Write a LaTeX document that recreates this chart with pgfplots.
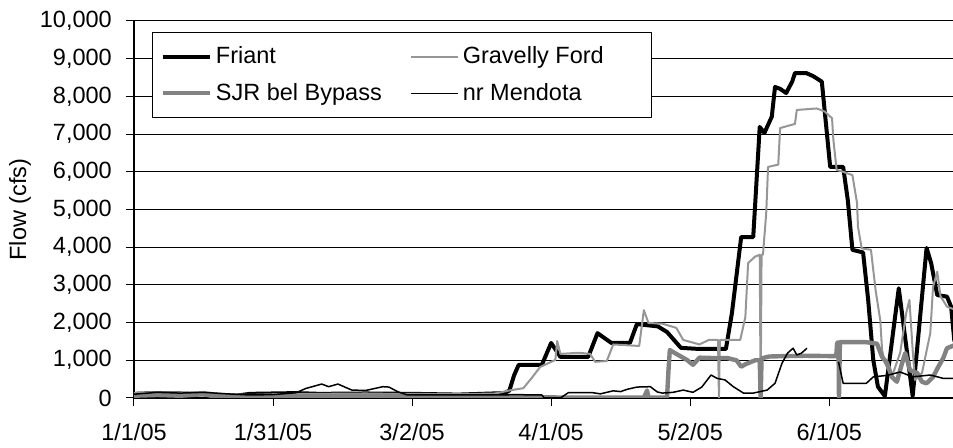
\documentclass[border=0pt]{standalone}
\usepackage{pgfplots}
\pgfplotsset{compat=1.18}
\usepackage{fontspec}
\setmainfont{Liberation Sans}
\definecolor{gfgray}{RGB}{150,150,150}
\definecolor{sjrgray}{RGB}{130,130,130}

\pgfplotstableread{
x y
0 110
5 130
10 120
15 100
17 60
22 60
25 110
35 130
40 110
50 120
60 110
70 90
75 110
80 130
81 200
82 600
83 880
88 880
90 1460
92 1090
98 1090
100 1720
103 1460
107 1460
108.5 1960
113 1900
115 1750
118 1330
122 1300
127.7 1300
129 2250
131 4270
133.6 4270
135 7190
136 7030
137.6 7460
138.3 8250
139.4 8200
140.7 8090
142 8390
142.6 8620
145 8620
146.5 8540
148.4 8390
150.2 6130
153 6130
154 5250
155 3930
157.3 3860
158.4 2600
159.5 1010
160.5 300
162 50
165 2910
168 50
171 3980
172 3570
173.3 2730
175.4 2690
176.3 2420
177 1500
}\friant

\pgfplotstableread{
x y
0 130
5 150
10 140
15 160
17 130
20 100
25 80
30 100
40 110
50 120
55 110
60 110
70 100
78 120
81 200
84 260
86 560
87.6 820
90.9 1010
91.3 1510
92 1170
96 1200
98.4 1170
99.5 960
102 980
103.4 1420
109 1380
110 2330
111 1990
114 1970
117 1860
118.5 1540
122 1420
124 1540
126 1540
126.2 0
126.4 1540
130.8 1540
131.9 2150
132.5 3580
134 3750
135 3800
135.2 0
135.4 3800
135.7 3800
136.4 4900
136.8 6130
139 6190
139.4 7160
142.6 7270
143 7640
147.3 7680
149 7600
150.6 7420
150.9 6840
151.6 6050
153 6000
155 5910
156 5170
156.2 4540
157 3970
159 3930
160 2860
161 2070
161.4 1270
162 930
163.5 560
165.3 1200
166.6 2250
167.3 2600
168 1270
168.5 480
170 660
171.8 1720
172.4 2950
173.3 3350
174 2700
175.4 2420
177 2350
}\gravelly

\pgfplotstableread{
x y
0 60
5 80
10 60
15 100
17 50
20 30
25 20
30 40
40 50
50 60
60 50
70 40
80 30
90 15
100 10
110 10
110.7 200
111 10
115 10
115.3 700
115.6 1270
117 1170
119.3 1010
120.6 880
122 1070
125 1060
128 1060
130 1000
131 830
132 900
134 1000
135 1000
135.2 0
135.4 1050
137 1100
140 1110
145 1120
151.5 1110
151.7 1460
152 1480
152.1 0
152.3 1480
155 1480
158 1480
160.3 1440
161.4 1090
162.5 920
163.5 560
164.6 430
165.7 920
166.4 1190
167.4 740
169 660
170 430
171 390
172.4 560
173.5 820
174.6 1060
175.4 1320
177 1400
}\sjr

\pgfplotstableread{
x y
0 100
5 150
10 130
15 150
20 110
25 80
30 90
35 140
37 250
40.5 370
42 300
44 370
47 210
50 200
53.7 300
55 290
57 160
59 80
70 80
80 80
81.5 90
88 80
88.5 0
92 0
93.7 140
99 140
100.6 110
103.4 190
105 170
106.4 230
108.5 290
111.4 300
112.9 160
114 130
116.3 150
118.5 210
120.6 150
122.5 290
124.5 610
125.8 520
127.5 480
129.3 300
131.5 130
133.6 130
136.6 210
138.3 390
139.8 920
141 1190
142.2 1320
143 1140
144 1190
145.2 1320
148 nan
152 960
153 390
158 390
159.5 560
162.5 600
165.3 690
168 560
171.8 610
174.6 520
177 520
}\mendota

\begin{document}
\fontsize{11.75}{14}\selectfont
\begin{tikzpicture}
\useasboundingbox (-67pt,-25pt) rectangle (409.5pt,199pt);
\begin{axis}[
  at={(0,0)}, anchor=south west,
  width=409.5pt, height=188.5pt, scale only axis,
  xmin=0, xmax=176.7, ymin=0, ymax=10000,
  axis lines=left, axis line style={-, black, line width=0.6pt},
  xtick={0,30,60,90,120,150},
  xticklabels={1/1/05,1/31/05,3/2/05,4/1/05,5/2/05,6/1/05},
  ytick={0,1000,...,10000},
  ymajorgrids, grid style={black, line width=0.5pt},
  tick align=outside, major tick length=4pt,
  tick style={black, line width=0.5pt},
  scaled y ticks=false,
  /pgf/number format/1000 sep={,},
  /pgf/number format/assume math mode=true,
  ticklabel style={font=\fontsize{11.75}{14}\selectfont},
  xticklabel style={yshift=-4.5pt},
  yticklabel style={xshift=-3pt},
  ylabel={Flow (cfs)},
  every axis y label/.style={at={(rel axis cs:0,0.5)}, xshift=-57pt, rotate=90, anchor=center, font=\fontsize{11.75}{14}\selectfont},
  unbounded coords=jump,
  clip=true,
  legend columns=2,
  legend cell align=left,
  legend image code/.code={\draw[#1] (0pt,0pt) -- (23.5pt,0pt);},
  legend style={at={(rel axis cs:0.022,0.971)}, anchor=north west, draw=black, line width=0.5pt,
    font=\fontsize{11.75}{14}\selectfont, inner xsep=4pt, inner ysep=5pt,
    row sep=4pt,
    /tikz/every even column/.append style={column sep=12pt}},
  line join=round,
]
\addplot[black, line width=2pt] table {\friant};
\addlegendentry{Friant}
\addplot[gfgray, line width=1pt] table {\gravelly};
\addlegendentry{Gravelly Ford\hspace*{18pt}}
\addplot[sjrgray, line width=2.2pt] table {\sjr};
\addlegendentry{SJR bel Bypass}
\addplot[black, line width=0.75pt] table {\mendota};
\addlegendentry{nr Mendota}
\end{axis}
\end{tikzpicture}
\end{document}
